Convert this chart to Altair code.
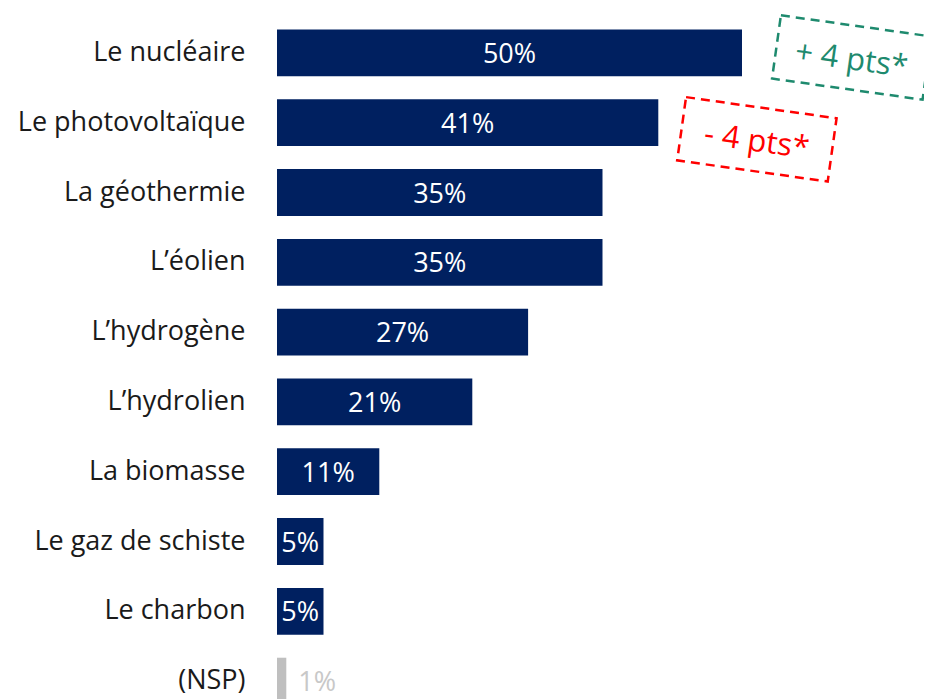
import altair as alt
import pandas as pd

categories = ["Le nucléaire", "Le photovoltaïque", "La géothermie", "L\u2019éolien",
              "L\u2019hydrogène", "L\u2019hydrolien", "La biomasse", "Le gaz de schiste",
              "Le charbon", "(NSP)"]
values = [50, 41, 35, 35, 27, 21, 11, 5, 5, 1]
is_nsp = [False] * 9 + [True]

ann_categories = ["Le nucléaire", "Le photovoltaïque"]
ann_texts = ["+ 4 pts*", "- 4 pts*"]
ann_colors = ["#1e8a6e", "#ff0000"]
ann_x = [61.8, 51.6]          # anchor position along the value axis (%)
ann_dy = [28, 40]             # offset from band top in px

FONT = "Open Sans"
NAVY = "#002060"
GREY = "#bfbfbf"

df = pd.DataFrame({"cat": categories, "val": values, "nsp": is_nsp})
df["label"] = df["val"].astype(str) + "%"
df["mid"] = df["val"] / 2

ann = pd.DataFrame({"cat": ann_categories, "txt": ann_texts, "col": ann_colors,
                    "x": ann_x, "dy": ann_dy})

ysc = alt.Scale(range=[0, 698], paddingInner=0.33, paddingOuter=0.165)
yaxis = alt.Axis(labelFontSize=27, labelFont=FONT, labelColor="#1a1a1a",
                 labelPadding=32, ticks=False, domain=False, grid=False,
                 labelLimit=400)
y = alt.Y("cat:N", sort=categories, title=None, scale=ysc, axis=yaxis)
xs = alt.Scale(domain=[0, 69.57], nice=False, zero=True, padding=0)

base = alt.Chart(df)

bars = base.mark_bar().encode(
    x=alt.X("val:Q", scale=xs, axis=None),
    y=y,
    color=alt.condition("datum.nsp", alt.value(GREY), alt.value(NAVY)),
)

inside = base.transform_filter("!datum.nsp").mark_text(
    font=FONT, fontSize=27, color="white", align="center", baseline="middle", dy=2
).encode(x=alt.X("mid:Q", scale=xs, axis=None), y=y, text="label:N")

outside = base.transform_filter("datum.nsp").mark_text(
    font=FONT, fontSize=27, color="#c8c8c8", align="left", baseline="middle",
    dx=12, dy=2
).encode(x=alt.X("val:Q", scale=xs, axis=None), y=y, text="label:N")

box_path = "M -1 -0.42 L 1 -0.42 L 1 0.42 L -1 0.42 Z"
abase = alt.Chart(ann)
boxes = abase.mark_point(shape=box_path, size=152 * 152, angle=8, filled=False,
                         strokeWidth=2.5, strokeDash=[9, 6], opacity=1).encode(
    x=alt.X("x:Q", scale=xs, axis=None), y=y,
    yOffset=alt.YOffset("dy:Q", scale=None),
    stroke=alt.Stroke("col:N", scale=None),
)
atext = abase.mark_text(font=FONT, fontSize=31, angle=8, align="center",
                        baseline="middle", dy=3).encode(
    x=alt.X("x:Q", scale=xs, axis=None), y=y,
    yOffset=alt.YOffset("dy:Q", scale=None),
    color=alt.Color("col:N", scale=None), text="txt:N",
)

chart = alt.layer(bars, inside, outside, boxes, atext).properties(
    width=647, height=681,
    background="white",
    autosize=alt.AutoSizeParams(type="none"),
    padding={"left": 269, "top": 10, "right": 0, "bottom": 0},
).configure_view(stroke=None).configure_axis(grid=False, domain=False)

chart.save("out.html", embed_options={"renderer": "svg", "actions": False})
